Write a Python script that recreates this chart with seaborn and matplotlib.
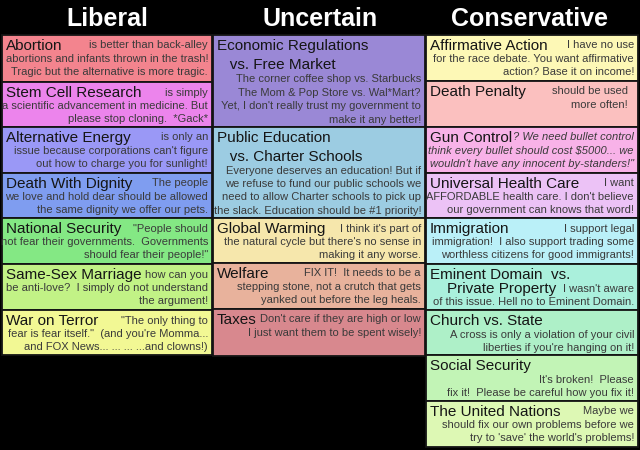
import numpy as np
import matplotlib
matplotlib.use("Agg")
import matplotlib.pyplot as plt
import seaborn as sns

# Column headers
columns = ["Liberal", "Uncertain", "Conservative"]

# Liberal column
liberal_topics = ["Abortion", "Stem Cell Research", "Alternative Energy", "Death With Dignity",
                  "National Security", "Same-Sex Marriage", "War on Terror"]
liberal_comments = [
    "is better than back-alley\nabortions and infants thrown in the trash!\nTragic but the alternative is more tragic.",
    "is simply\na scientific advancement in medicine. But\nplease stop cloning.  *Gack*",
    "is only an\nissue because corporations can't figure\nout how to charge you for sunlight!",
    "The people\nwe love and hold dear should be allowed\nthe same dignity we offer our pets.",
    "\"People should\nnot fear their governments.  Governments\nshould fear their people!\"",
    "how can you\nbe anti-love?  I simply do not understand\nthe argument!",
    "\"The only thing to\nfear is fear itself.\"  (and you're Momma...\nand FOX News... ... ... ...and clowns!)",
]
liberal_heights = [47, 45, 46, 45, 46, 46, 45]

# Uncertain column
uncertain_topics = ["Economic Regulations\n   vs. Free Market", "Public Education\n   vs. Charter Schools",
                    "Global Warming", "Welfare", "Taxes"]
uncertain_comments = [
    "The corner coffee shop vs. Starbucks\nThe Mom & Pop Store vs. Wal*Mart?\nYet, I don't really trust my government to\nmake it any better!",
    "Everyone deserves an education! But if\nwe refuse to fund our public schools we\nneed to allow Charter schools to pick up\nthe slack. Education should be #1 priority!",
    "I think it's part of\nthe natural cycle but there's no sense in\nmaking it any worse.",
    "FIX IT!  It needs to be a\nstepping stone, not a crutch that gets\nyanked out before the leg heals.",
    "Don't care if they are high or low\nI just want them to be spent wisely!",
]
uncertain_heights = [92, 91, 45, 46, 47]

# Conservative column
conservative_topics = ["Affirmative Action", "Death Penalty", "Gun Control", "Universal Health Care",
                       "Immigration", "Eminent Domain  vs.\n    Private Property", "Church vs. State",
                       "Social Security", "The United Nations"]
conservative_comments = [
    "I have no use\nfor the race debate. You want affirmative\naction? Base it on income!",
    "should be used\nmore often!",
    "? We need bullet control\nthink every bullet should cost $5000... we\nwouldn't have any innocent by-standers!\"",
    "I want\nAFFORDABLE health care. I don't believe\nour government can knows that word!",
    "I support legal\nimmigration!  I also support trading some\nworthless citizens for good immigrants!",
    "I wasn't aware\nof this issue. Hell no to Eminent Domain.",
    "A cross is only a violation of your civil\nliberties if you're hanging on it!",
    "It's broken!  Please\nfix it!  Please be careful how you fix it!",
    "Maybe we\nshould fix our own problems before we\ntry to 'save' the world's problems!",
]
conservative_heights = [46, 46, 46, 45, 46, 46, 45, 46, 46]

# styles / layout
liberal_colors = ["#f3848e", "#ec84ec", "#9a98f6", "#7f9df0", "#84e884", "#c2f286", "#f2f894"]
uncertain_colors = ["#9a88d6", "#9cccE2", "#f6e7ac", "#e8b29c", "#d8888e"]
conservative_colors = ["#fdf8b6", "#fbc0bf", "#f8b2e8", "#ecc2f6", "#baf0f8",
                       "#aaf0dc", "#aef0c8", "#c2f4b6", "#ddf8b4"]
# vertical offset (px) of the comment under the topic title
liberal_drop = [0] * 7
uncertain_drop = [34, 33, 0, 0, 0]
conservative_drop = [0, 0, 0, 0, 0, 14.5, 14.5, 14.5, 0]
italic_comments = {"Gun Control"}
tight_titles = {"Eminent Domain  vs.\n    Private Property"}
line_pitch = 13.4

sns.set_style("white")
plt.rcParams["font.family"] = ["Liberation Sans", "DejaVu Sans"]

fig = plt.figure(figsize=(6.4, 4.5), dpi=100, facecolor="black")
ax = fig.add_axes([0, 0, 1, 1])
ax.set_facecolor("black")
ax.set_xlim(0, 640)
ax.set_ylim(450, 0)
ax.axis("off")

header_h = 35
col_left = [2, 213, 426]
col_width = [210, 212, 212]
header_x = [107, 320, 530]

groups = [
    (liberal_topics, liberal_comments, liberal_heights, liberal_colors, liberal_drop),
    (uncertain_topics, uncertain_comments, uncertain_heights, uncertain_colors, uncertain_drop),
    (conservative_topics, conservative_comments, conservative_heights, conservative_colors, conservative_drop),
]

for i, (topics, comments, heights, colors, drop) in enumerate(groups):
    tops = header_h + np.concatenate([[0], np.cumsum(heights)[:-1]])
    ax.bar(col_left[i], heights, bottom=tops, width=col_width[i], align="edge",
           color=colors, edgecolor="#141414", linewidth=1.3)
    ax.text(header_x[i], 26, columns[i], color="white", fontsize=18, fontweight="bold",
            ha="center", va="baseline")
    for t, c, top, d in zip(topics, comments, tops, drop):
        pitch = 14 if t in tight_titles else 18.5
        for k, line in enumerate(t.split("\n")):
            ax.text(col_left[i] + 4, top + 4.3 + k * pitch, line, fontsize=11,
                    color="#151515", ha="left", va="top", parse_math=False)
        right = col_left[i] + col_width[i] - (10 if t == "Death Penalty" else 4)
        style = "italic" if t in italic_comments else "normal"
        for k, line in enumerate(c.split("\n")):
            ax.text(right, top + 5.5 + d + k * line_pitch, line, fontsize=8,
                    color="#3a3a3a", ha="right", va="top", style=style, parse_math=False)

fig.savefig("out.png", dpi=100, facecolor="black")
